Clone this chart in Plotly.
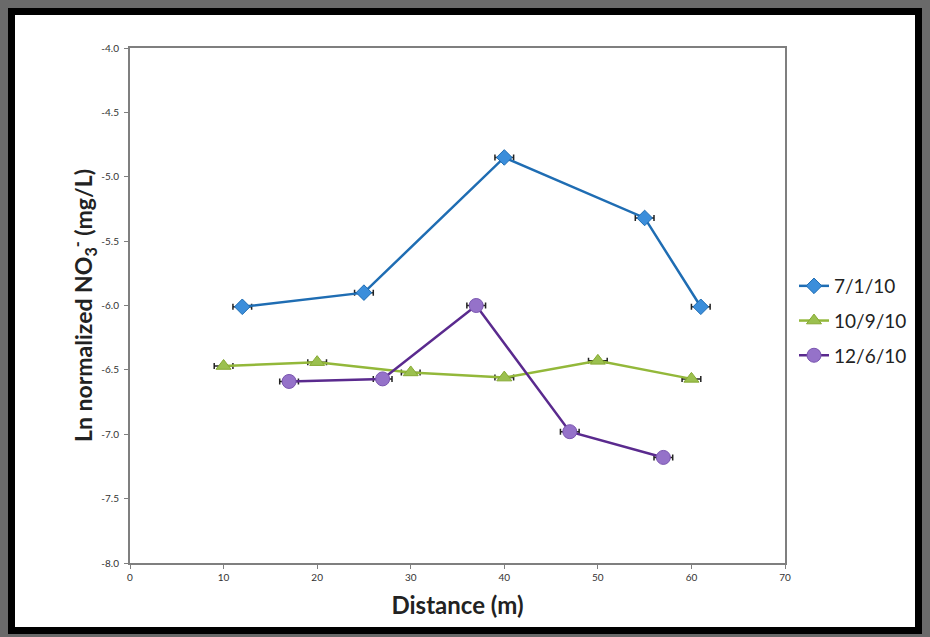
import plotly.graph_objects as go

# ---- data ----
series_names = ["7/1/10", "10/9/10", "12/6/10"]
dist_7_1 = [12, 25, 40, 55, 61]
ln_7_1 = [-6.01, -5.90, -4.85, -5.32, -6.01]
dist_10_9 = [10, 20, 30, 40, 50, 60]
ln_10_9 = [-6.47, -6.44, -6.52, -6.56, -6.43, -6.57]
dist_12_6 = [17, 27, 37, 47, 57]
ln_12_6 = [-6.59, -6.57, -6.00, -6.98, -7.18]
x_err = 1.0

x_ticks = [0, 10, 20, 30, 40, 50, 60, 70]
y_ticks = [-4.0, -4.5, -5.0, -5.5, -6.0, -6.5, -7.0, -7.5, -8.0]
y_tick_text = [f"{v:.1f}" for v in y_ticks]

W, H = 930, 637
L, R, T, B = 130, 785, 48, 563

def px(x):
    return (x - L) / (R - L)

def py(y):
    return (B - y) / (B - T)

FONT = "Lato, 'Open Sans', sans-serif"

fig = go.Figure()

styles = [
    dict(line=dict(color="#1f6db3", width=2.5),
         marker=dict(symbol="diamond", size=12, color="#3b8edb",
                     line=dict(color="#1f6db3", width=1))),
    dict(line=dict(color="#93b83a", width=2.5),
         marker=dict(symbol="triangle-up", size=13, color="#9bc04f",
                     line=dict(color="#86a932", width=1))),
    dict(line=dict(color="#5a2a8e", width=2.5),
         marker=dict(symbol="circle", size=14, color="#9572c9",
                     line=dict(color="#7a55b0", width=1))),
]

for name, xs, ys, st in zip(series_names, [dist_7_1, dist_10_9, dist_12_6],
                            [ln_7_1, ln_10_9, ln_12_6], styles):
    fig.add_trace(go.Scatter(
        x=xs, y=ys, name=name, mode="lines+markers",
        legendgroup=name,
        line=st["line"], marker=st["marker"],
        error_x=dict(type="constant", value=x_err, color="#222222",
                     thickness=1.5, width=3),
    ))

# frame shapes (gray outer via paper bg, black border, white inner)
fig.add_shape(type="rect", xref="paper", yref="paper", layer="below",
              x0=px(8), x1=px(922), y0=py(634), y1=py(8),
              fillcolor="#000000", line=dict(width=0))
fig.add_shape(type="rect", xref="paper", yref="paper", layer="below",
              x0=px(15), x1=px(915), y0=py(627), y1=py(15),
              fillcolor="#ffffff", line=dict(width=0))

axis_common = dict(
    showgrid=False, zeroline=False, showline=True, linecolor="#7f7f7f",
    linewidth=2, mirror=True, ticks="outside", ticklen=4,
    tickcolor="#7f7f7f", tickfont=dict(family=FONT, size=10, color="#333333"),
)

fig.update_layout(
    width=W, height=H,
    margin=dict(l=L, r=W - R, t=T, b=H - B),
    paper_bgcolor="#6a6a6a",
    plot_bgcolor="#ffffff",
    font=dict(family=FONT),
    showlegend=True,
    legend=dict(x=px(794), y=py(267), xanchor="left", yanchor="top",
                font=dict(family=FONT, size=19, color="#222222"),
                bgcolor="rgba(0,0,0,0)", tracegroupgap=7,
                itemwidth=30),
    xaxis=dict(range=[0, 70], tickvals=x_ticks, **axis_common,
               title=dict(text="<b>Distance (m)</b>", standoff=15,
                          font=dict(family=FONT, size=24, color="#222222"))),
    yaxis=dict(range=[-8.0, -4.0], tickvals=y_ticks, ticktext=y_tick_text,
               ticklabelstandoff=3,
               **axis_common,
               title=dict(text="<b>Ln normalized NO<sub>3</sub><sup>-</sup> (mg/L)</b>",
                          standoff=2,
                          font=dict(family=FONT, size=23, color="#222222"))),
)

fig.write_html("out.html",
               config={"displayModeBar": False},
               post_script="document.body.style.margin='0';"
                           "document.body.style.overflow='hidden';")
